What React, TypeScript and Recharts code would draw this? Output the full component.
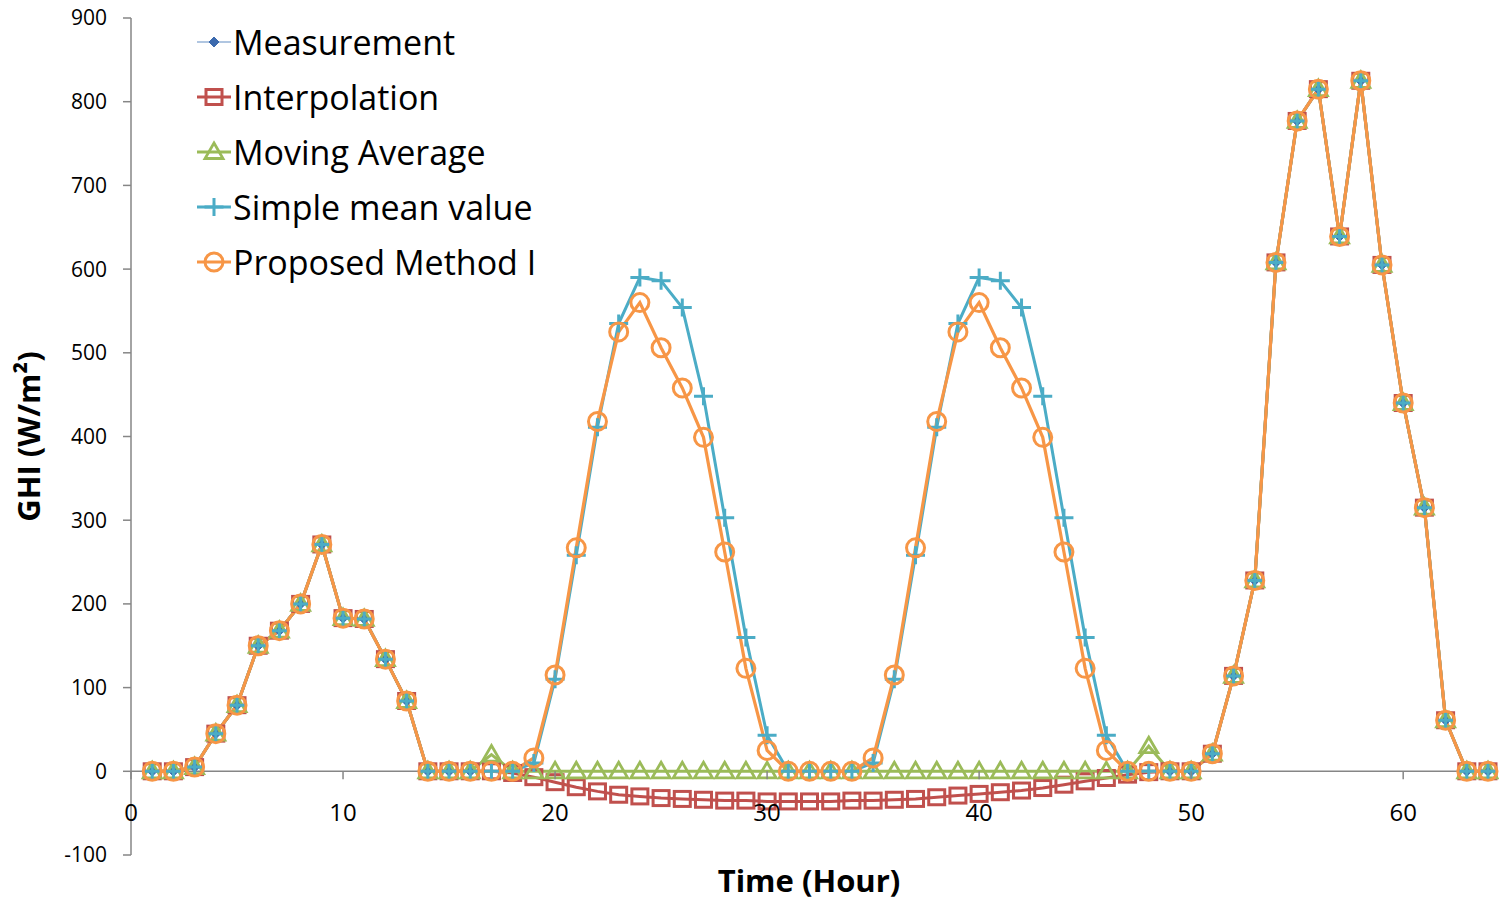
import React from 'react';
import { LineChart, Line, XAxis, YAxis, ReferenceLine, Label } from 'recharts';

// GHI gap-filling comparison over 64 hours

if (typeof document !== 'undefined') document.body.style.margin = '0';

const hours = [
  1, 2, 3, 4, 5, 6, 7, 8, 9, 10, 11, 12, 13, 14, 15, 16,
  17, 18, 19, 20, 21, 22, 23, 24, 25, 26, 27, 28, 29, 30, 31, 32,
  33, 34, 35, 36, 37, 38, 39, 40, 41, 42, 43, 44, 45, 46, 47, 48,
  49, 50, 51, 52, 53, 54, 55, 56, 57, 58, 59, 60, 61, 62, 63, 64,
];

// measured GHI, missing from hour 17 to 48
const measurement = [
  0, 0, 5, 45, 79, 150, 168, 200, 271, 183, 182, 134, 84, 0, 0, 0,
  null, null, null, null, null, null, null, null, null, null, null, null, null, null, null, null,
  null, null, null, null, null, null, null, null, null, null, null, null, null, null, null, null,
  0, 0, 21, 114, 228, 608, 777, 815, 639, 825, 605, 440, 315, 61, 0, 0,
];

const interpolation = [
  0, 0, 5, 45, 79, 150, 168, 200, 271, 183, 182, 134, 84, 0, 0, 0,
  0, -2, -7, -13, -19, -24, -28, -30, -32, -33, -34, -35, -35, -36, -36, -36,
  -36, -35, -35, -34, -33, -31, -29, -27, -25, -23, -20, -16, -12, -8, -4, -1,
  0, 0, 21, 114, 228, 608, 777, 815, 639, 825, 605, 440, 315, 61, 0, 0,
];

const movingAverage = [
  0, 0, 5, 45, 79, 150, 168, 200, 271, 183, 182, 134, 84, 0, 0, 0,
  20, 0, 0, 0, 0, 0, 0, 0, 0, 0, 0, 0, 0, 0, 0, 0,
  0, 0, 0, 0, 0, 0, 0, 0, 0, 0, 0, 0, 0, 0, 0, 30,
  0, 0, 21, 114, 228, 608, 777, 815, 639, 825, 605, 440, 315, 61, 0, 0,
];

const simpleMean = [
  0, 0, 5, 45, 79, 150, 168, 200, 271, 183, 182, 134, 84, 0, 0, 0,
  0, 0, 10, 110, 258, 411, 535, 590, 586, 554, 448, 303, 160, 43, 0, 0,
  0, 0, 10, 110, 258, 411, 535, 590, 586, 554, 448, 303, 160, 43, 0, 0,
  0, 0, 21, 114, 228, 608, 777, 815, 639, 825, 605, 440, 315, 61, 0, 0,
];

const proposed = [
  0, 0, 5, 45, 79, 150, 168, 200, 271, 183, 182, 134, 84, 0, 0, 0,
  0, 0, 16, 115, 267, 418, 525, 560, 506, 458, 399, 262, 123, 25, 0, 0,
  0, 0, 16, 115, 267, 418, 525, 560, 506, 458, 399, 262, 123, 25, 0, 0,
  0, 0, 21, 114, 228, 608, 777, 815, 639, 825, 605, 440, 315, 61, 0, 0,
];

const xTicks = [0, 10, 20, 30, 40, 50, 60];
const yTicks = [-100, 0, 100, 200, 300, 400, 500, 600, 700, 800, 900];

const rows = hours.map((hour, i) => ({
  hour,
  measurement: measurement[i],
  interpolation: interpolation[i],
  movingAverage: movingAverage[i],
  simpleMean: simpleMean[i],
  proposed: proposed[i],
}));

const FONT = '"Open Sans", "DejaVu Sans", sans-serif';
const AXIS = '#868686';
const W = 1499;
const H = 901;
const M = { top: 18, right: 11, left: 0, bottom: 16 };
const X_AXIS_H = 30;
const Y_AXIS_W = 131;
const Y_MIN = -100;
const Y_MAX = 900;
const plotTop = M.top;
const plotBottom = H - M.bottom - X_AXIS_H;
const zeroY = plotTop + ((Y_MAX - 0) / (Y_MAX - Y_MIN)) * (plotBottom - plotTop);

type Shape = 'diamond' | 'square' | 'triangle' | 'plus' | 'circle';

function Marker({ shape, cx, cy, color }: { shape: Shape; cx: number; cy: number; color: string }) {
  switch (shape) {
    case 'diamond':
      return <path d={`M${cx},${cy - 5}L${cx + 5},${cy}L${cx},${cy + 5}L${cx - 5},${cy}Z`} fill={color} stroke={color} />;
    case 'square':
      return <rect x={cx - 8} y={cy - 7.5} width={16} height={15} fill="none" stroke={color} strokeWidth={3} />;
    case 'triangle':
      return <path d={`M${cx},${cy - 9}L${cx + 9},${cy + 6.5}L${cx - 9},${cy + 6.5}Z`} fill="none" stroke={color} strokeWidth={2.8} />;
    case 'plus':
      return (
        <path d={`M${cx - 9.5},${cy}H${cx + 9.5}M${cx},${cy - 9}V${cy + 9}`} fill="none" stroke={color} strokeWidth={3} />
      );
    default:
      return <circle cx={cx} cy={cy} r={9} fill="none" stroke={color} strokeWidth={3} />;
  }
}

const series: { key: string; name: string; color: string; marker: string; shape: Shape; width: number }[] = [
  { key: 'measurement', name: 'Measurement', color: '#4F81BD', marker: '#3C6AAE', shape: 'diamond', width: 2 },
  { key: 'interpolation', name: 'Interpolation', color: '#C0504D', marker: '#C0504D', shape: 'square', width: 3 },
  { key: 'movingAverage', name: 'Moving Average', color: '#9BBB59', marker: '#9BBB59', shape: 'triangle', width: 3 },
  { key: 'simpleMean', name: 'Simple mean value', color: '#4BACC6', marker: '#4BACC6', shape: 'plus', width: 3 },
  { key: 'proposed', name: 'Proposed Method I', color: '#F79646', marker: '#F79646', shape: 'circle', width: 3.2 },
];

function makeDot(shape: Shape, color: string, key: string) {
  return (props: any) => {
    const { cx, cy, index, value } = props;
    if (value == null || cx == null || cy == null || isNaN(cy)) return <g key={`${key}-${index}`} />;
    return (
      <g key={`${key}-${index}`}>
        <Marker shape={shape} cx={cx} cy={cy} color={color} />
      </g>
    );
  };
}

function ZeroTick(props: any) {
  const { x, payload } = props;
  return (
    <g>
      <line x1={x} x2={x} y1={zeroY} y2={zeroY + 8} stroke={AXIS} strokeWidth={1.5} />
      <text x={x} y={zeroY + 50} textAnchor="middle" fontSize={24} fontFamily={FONT} fill="#000">
        {payload.value}
      </text>
    </g>
  );
}

function ChartLegend() {
  return (
    <div style={{ position: 'absolute', left: 196, top: 14, fontFamily: FONT }}>
      {series.map((s) => (
        <div key={s.key} style={{ display: 'flex', alignItems: 'center', height: 55 }}>
          <svg width={36} height={30} style={{ marginRight: 1 }}>
            <line x1={1} x2={35} y1={15} y2={15} stroke={s.color} strokeWidth={s.key === 'measurement' ? 1.5 : 3} strokeOpacity={s.key === 'measurement' ? 0.6 : 1} />
            <Marker shape={s.shape} cx={18} cy={15} color={s.marker} />
          </svg>
          <span style={{ fontSize: 34, color: '#000', whiteSpace: 'nowrap' }}>{s.name}</span>
        </div>
      ))}
    </div>
  );
}

export default function App() {
  return (
    <div style={{ position: 'relative', width: W, height: H, background: '#fff' }}>
      <LineChart width={W} height={H} data={rows} margin={M}>
        <XAxis
          dataKey="hour"
          type="number"
          domain={[0, 64]}
          ticks={xTicks}
          axisLine={false}
          tickLine={false}
          height={X_AXIS_H}
          tick={<ZeroTick />}
          interval={0}
        >
          <Label
            content={() => (
              <text x={809} y={892} textAnchor="middle" fontSize={31} fontWeight="bold" fontFamily={FONT} fill="#000">
                Time (Hour)
              </text>
            )}
          />
        </XAxis>
        <YAxis
          type="number"
          domain={[Y_MIN, Y_MAX]}
          ticks={yTicks}
          width={Y_AXIS_W}
          interval={0}
          tickSize={8}
          tickMargin={16}
          axisLine={{ stroke: AXIS, strokeWidth: 1.5 }}
          tickLine={{ stroke: AXIS, strokeWidth: 1.5 }}
          tick={{ fontSize: 21, fontFamily: FONT, fill: '#000' }}
        >
          <Label
            content={() => (
              <text
                x={0}
                y={0}
                transform={`translate(40, ${(plotTop + plotBottom) / 2}) rotate(-90)`}
                textAnchor="middle"
                fontSize={31}
                fontWeight="bold"
                fontFamily={FONT}
                fill="#000"
              >
                GHI (W/m²)
              </text>
            )}
          />
        </YAxis>
        <ReferenceLine y={0} stroke={AXIS} strokeWidth={1.5} />
        {series.map((s) => (
          <Line
            key={s.key}
            dataKey={s.key}
            name={s.name}
            stroke={s.color}
            strokeWidth={s.width}
            type="linear"
            dot={makeDot(s.shape, s.marker, s.key)}
            activeDot={false}
            isAnimationActive={false}
          />
        ))}
      </LineChart>
      <ChartLegend />
    </div>
  );
}
